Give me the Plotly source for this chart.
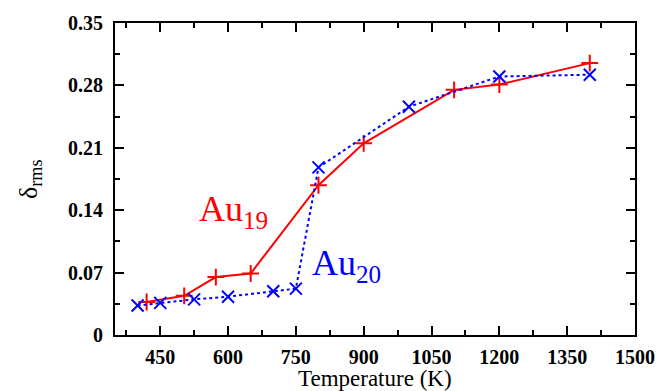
import plotly.graph_objects as go

# Au19 cluster: temperature (K) vs delta_rms
t_au19 = [420, 503, 573, 650, 800, 900, 1100, 1200, 1400]
d_au19 = [0.037, 0.044, 0.065, 0.069, 0.168, 0.215, 0.275, 0.281, 0.305]

# Au20 cluster
t_au20 = [400, 450, 525, 600, 700, 750, 800, 1000, 1200, 1400]
d_au20 = [0.033, 0.036, 0.040, 0.043, 0.049, 0.052, 0.188, 0.256, 0.290, 0.292]

x_ticks = [450, 600, 750, 900, 1050, 1200, 1350, 1500]
x_labels = ["450", "600", "750", "900", "1050", "1200", "1350", "1500"]
y_ticks = [0, 0.07, 0.14, 0.21, 0.28, 0.35]
y_labels = ["0", "0.07", "0.14", "0.21", "0.28", "0.35"]

SERIF = "Liberation Serif, Times New Roman, serif"

fig = go.Figure()
fig.add_trace(go.Scatter(
    x=t_au19, y=d_au19, mode="lines+markers",
    line=dict(color="rgb(255,0,0)", width=2),
    marker=dict(symbol="cross-thin", size=12, line=dict(color="rgb(255,0,0)", width=2)),
    showlegend=False,
))
fig.add_trace(go.Scatter(
    x=t_au20, y=d_au20, mode="lines+markers",
    line=dict(color="rgb(0,0,255)", width=2, dash="dot"),
    marker=dict(symbol="x-thin", size=12, line=dict(color="rgb(0,0,255)", width=2)),
    showlegend=False,
))

axis_common = dict(
    showline=True, linecolor="black", linewidth=2, mirror="allticks",
    ticks="inside", ticklen=9, tickwidth=2, tickcolor="black",
    showgrid=False, zeroline=False,
    tickfont=dict(family=SERIF, size=20, color="black"),
)

fig.update_xaxes(
    range=[350, 1500], tickvals=x_ticks, ticktext=["<b>%s</b>" % s for s in x_labels],
    minor=dict(ticks="inside", ticklen=5, tickwidth=2, tickcolor="black", tick0=0, dtick=75),
    ticklabelstandoff=3,
    **axis_common,
)
fig.update_yaxes(
    range=[0, 0.35], tickvals=y_ticks, ticktext=["<b>%s</b>" % s for s in y_labels],
    minor=dict(ticks="inside", ticklen=5, tickwidth=2, tickcolor="black", tick0=0, dtick=0.035),
    ticklabelstandoff=6,
    **axis_common,
)

fig.add_annotation(
    x=531, y=0.1384, xref="x", yref="y", xanchor="left", yanchor="middle",
    text="Au<sub>19</sub>", showarrow=False,
    font=dict(family=SERIF, size=36, color="rgb(255,0,0)"),
)
fig.add_annotation(
    x=782, y=0.0775, xref="x", yref="y", xanchor="left", yanchor="middle",
    text="Au<sub>20</sub>", showarrow=False,
    font=dict(family=SERIF, size=36, color="rgb(0,0,255)"),
)
fig.add_annotation(
    x=0.5, y=0, xref="paper", yref="paper", xanchor="center", yanchor="top",
    yshift=-29, text="Temperature (K)", showarrow=False,
    font=dict(family=SERIF, size=23, color="black"),
)
fig.add_annotation(
    x=0, y=0.5, xref="paper", yref="paper", xanchor="center", yanchor="middle",
    xshift=-85, text="δ<sub>rms</sub>", textangle=-90, showarrow=False,
    font=dict(family=SERIF, size=26, color="black"),
)

fig.update_layout(
    width=667, height=391,
    margin=dict(l=115, r=25, t=19, b=56),
    plot_bgcolor="white", paper_bgcolor="white",
)

fig.write_html("out.html")
